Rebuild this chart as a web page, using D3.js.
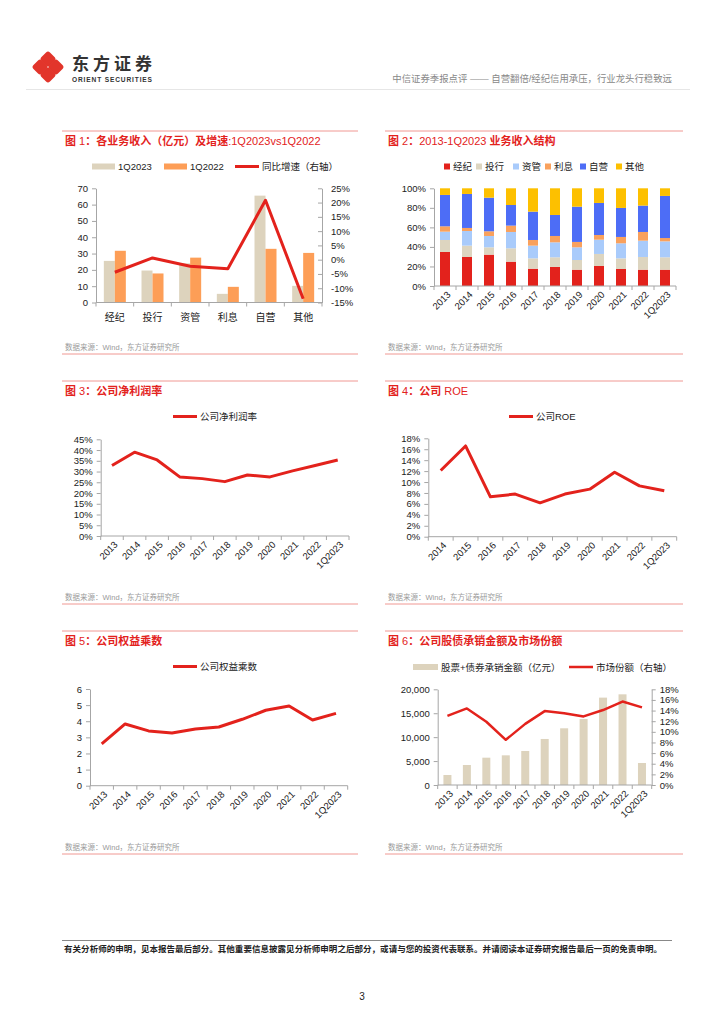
<!DOCTYPE html>
<html>
<head>
<meta charset="utf-8">
<script src="https://cdn.jsdelivr.net/npm/d3@7"></script>
<style>
body { margin: 0; background: #fff; }
</style>
</head>
<body>
<script>
// ---- data ----
var bizCats = ["经纪", "投行", "资管", "利息", "自营", "其他"];
var rev1Q2023 = [25.5, 19.6, 24.0, 5.3, 65.5, 10.2];   // 亿元
var rev1Q2022 = [31.7, 17.8, 27.5, 9.6, 32.9, 30.4];   // 亿元
var revYoY = [-4.4, 0.6, -2.3, -3.2, 20.8, -13.7];     // %

var years = ["2013", "2014", "2015", "2016", "2017", "2018", "2019", "2020", "2021", "2022", "1Q2023"];
var mixKeys = ["经纪", "投行", "资管", "利息", "自营", "其他"];
var mixBrokerage = [34.8, 29.7, 32.1, 24.9, 17.7, 19.5, 16.7, 20.5, 17.4, 16.7, 16.7];
var mixIB        = [12.3, 11.6, 7.5, 13.7, 10.6, 9.9, 9.9, 12.3, 10.9, 13.0, 12.7];
var mixAM        = [8.5, 15.0, 11.6, 16.7, 13.0, 15.3, 13.0, 14.6, 15.4, 16.7, 16.3];
var mixInterest  = [5.5, 3.1, 4.8, 6.5, 5.8, 6.5, 5.5, 4.8, 6.5, 8.9, 3.4];
var mixProp      = [32.1, 34.8, 34.4, 21.1, 29.0, 21.5, 36.1, 32.8, 29.7, 27.0, 43.1];
var mixOther     = [6.8, 5.8, 9.6, 17.1, 23.9, 27.3, 18.8, 15.0, 20.1, 17.7, 7.8];

var netMargin = [32.8, 39.0, 35.4, 27.5, 26.7, 25.3, 28.4, 27.5, 30.3, 32.8, 35.4]; // %

var roeYears = ["2014", "2015", "2016", "2017", "2018", "2019", "2020", "2021", "2022", "1Q2023"];
var roe = [12.1, 16.6, 7.3, 7.8, 6.2, 7.8, 8.7, 11.8, 9.3, 8.4]; // %

var equityMult = [2.59, 3.83, 3.40, 3.27, 3.52, 3.64, 4.12, 4.68, 4.95, 4.08, 4.49];

var underwriting = [2090, 4180, 5710, 6200, 7110, 9620, 11850, 13800, 18260, 18950, 4600]; // 亿元
var marketShare = [13.0, 14.4, 11.9, 8.5, 11.5, 13.9, 13.5, 12.9, 14.1, 15.7, 14.6];      // %

// ---- page ----
var FONT = '"Liberation Sans", Arial, "Noto Sans CJK SC", sans-serif';
var RED = "#e3221c", BEIGE = "#ddd3bd", ORANGE = "#fd9e57", AX = "#a6a6a6";
var mixColors = [RED, "#ddd5c0", "#a9cbfb", "#f9a15d", "#4d6df6", "#fdc000"];

var svg = d3.select("body").append("svg")
    .attr("width", 724).attr("height", 1024)
    .style("font-family", FONT);

// header / logo
var logo = svg.append("g").attr("transform", "translate(48,67)");
[[0,-8],[8,0],[0,8],[-8,0]].forEach(function(p) {
    logo.append("rect").attr("x", p[0]-6).attr("y", p[1]-6).attr("width", 12).attr("height", 12)
        .attr("rx", 2.8).attr("fill", "#e2352b")
        .attr("transform", "rotate(45," + p[0] + "," + p[1] + ")");
});
svg.append("text").attr("x", 72).attr("y", 70).attr("font-size", 17).attr("font-weight", "bold")
    .attr("fill", "#333").attr("font-family", '"Noto Sans CJK SC"').attr("textLength", 80).text("东方证券");
svg.append("text").attr("x", 72).attr("y", 81.5).attr("font-size", 6.6).attr("font-weight", "bold")
    .attr("fill", "#333").attr("textLength", 80).text("ORIENT SECURITIES");
svg.append("text").attr("x", 672).attr("y", 82).attr("text-anchor", "end").attr("font-size", 9.4)
    .attr("fill", "#888").text("中信证券季报点评 —— 自营翻倍/经纪信用承压，行业龙头行稳致远");
svg.append("line").attr("x1", 26).attr("x2", 690).attr("y1", 89.5).attr("y2", 89.5)
    .attr("stroke", "#e6e6e6");

// footer
svg.append("line").attr("x1", 62).attr("x2", 672).attr("y1", 940.5).attr("y2", 940.5)
    .attr("stroke", "#888").attr("stroke-width", 1);
svg.append("text").attr("x", 64).attr("y", 952).attr("font-size", 8.5).attr("font-weight", "bold")
    .attr("fill", "#222").attr("textLength", 598)
    .text("有关分析师的申明，见本报告最后部分。其他重要信息披露见分析师申明之后部分，或请与您的投资代表联系。并请阅读本证券研究报告最后一页的免责申明。");
svg.append("text").attr("x", 362).attr("y", 1000).attr("text-anchor", "middle").attr("font-size", 10)
    .attr("fill", "#222").text("3");

function panel(x0, x1, top, bottom, title) {
    svg.append("line").attr("x1", x0).attr("x2", x1).attr("y1", top).attr("y2", top)
        .attr("stroke", "#f09893");
    // CJK runs bold, latin/digits regular like the report
    var t = svg.append("text").attr("x", x0 + 3).attr("y", top + 13.5).attr("font-size", 11)
        .attr("fill", RED);
    title.match(/[\u0000-\u00ff]+|[^\u0000-\u00ff]+/g).forEach(function(s) {
        t.append("tspan").attr("font-weight", /[^\u0000-\u00ff]/.test(s) ? "bold" : "normal").text(s);
    });
    svg.append("text").attr("x", x0 + 3).attr("y", bottom - 4).attr("font-size", 7.5)
        .attr("fill", "#9a9a9a").text("数据来源：Wind，东方证券研究所");
    svg.append("line").attr("x1", x0).attr("x2", x1).attr("y1", bottom).attr("y2", bottom)
        .attr("stroke", "#f09893");
}

function styleAxis(g) {
    g.attr("font-family", FONT);
    g.select(".domain").attr("stroke", AX);
    g.selectAll(".tick line").attr("stroke", AX);
    g.selectAll(".tick text").attr("fill", "#222").attr("font-size", 9.5);
}

function yAxis(scale, xpos, ticks, fmt, right, inward) {
    var ax = right ? d3.axisRight(scale) : d3.axisLeft(scale);
    ax.tickValues(ticks).tickFormat(fmt).tickSizeOuter(0);
    if (inward) ax.tickSizeInner(-4).tickPadding(9); else ax.tickSizeInner(4).tickPadding(4);
    svg.append("g").attr("transform", "translate(" + xpos + ",0)").call(ax).call(styleAxis);
}

function xAxisBand(x, y, rotate, fsize) {
    var g = svg.append("g");
    var r = x.range();
    g.append("line").attr("x1", r[0]).attr("x2", r[1]).attr("y1", y).attr("y2", y).attr("stroke", AX);
    var bounds = d3.range(x.domain().length + 1).map(function(i) { return r[0] + i * x.step(); });
    g.selectAll("line.tk").data(bounds).join("line").attr("class", "tk")
        .attr("x1", function(d) { return d; }).attr("x2", function(d) { return d; })
        .attr("y1", y).attr("y2", y + 4).attr("stroke", AX);
    var cx = function(d) { return x(d) + x.bandwidth() / 2; };
    if (rotate) {
        g.selectAll("text").data(x.domain()).join("text")
            .attr("transform", function(d) { return "translate(" + (cx(d) + 4) + "," + (y + 7) + ") rotate(-45)"; })
            .attr("text-anchor", "end").attr("dy", "0.35em").attr("font-size", fsize || 9.5)
            .attr("fill", "#222").text(function(d) { return d; });
    } else {
        g.selectAll("text").data(x.domain()).join("text")
            .attr("x", cx).attr("y", y + 18).attr("text-anchor", "middle").attr("font-size", fsize || 10)
            .attr("fill", "#222").text(function(d) { return d; });
    }
}

function legendLine(x, y, label, w) {
    svg.append("line").attr("x1", x).attr("x2", x + 24).attr("y1", y).attr("y2", y)
        .attr("stroke", RED).attr("stroke-width", w || 3);
    svg.append("text").attr("x", x + 27).attr("y", y + 3.5).attr("font-size", 9.5).attr("fill", "#222").text(label);
}
function legendBox(x, y, label, color, w, h) {
    svg.append("rect").attr("x", x).attr("y", y - h / 2).attr("width", w).attr("height", h).attr("fill", color);
    svg.append("text").attr("x", x + w + 3).attr("y", y + 3.5).attr("font-size", 9.5).attr("fill", "#222").text(label);
}

function redLine(x, y, vals, cats, w) {
    svg.append("path").datum(vals)
        .attr("fill", "none").attr("stroke", RED).attr("stroke-width", w || 3).attr("stroke-linejoin", "round")
        .attr("d", d3.line()
            .x(function(d, i) { return x(cats[i]) + x.bandwidth() / 2; })
            .y(function(d) { return y(d); }));
}

var pct = function(d) { return d + "%"; };

// ---- chart 1 ----
panel(62, 358, 131, 354, "图 1：各业务收入（亿元）及增速:1Q2023vs1Q2022");
legendBox(92, 166.5, "1Q2023", BEIGE, 23, 6);
legendBox(164, 166.5, "1Q2022", ORANGE, 23, 6);
legendLine(235, 166.5, "同比增速（右轴）");
(function() {
    var x = d3.scaleBand().domain(bizCats).range([96, 322]);
    var y = d3.scaleLinear().domain([0, 70]).range([302.5, 188.3]);
    var y2 = d3.scaleLinear().domain([-15, 25]).range([302.5, 188.3]);
    var bw = 11;
    svg.append("g").selectAll("rect").data(rev1Q2023).join("rect")
        .attr("x", function(d, i) { return x(bizCats[i]) + x.bandwidth() / 2 - bw; })
        .attr("width", bw).attr("y", function(d) { return y(d); })
        .attr("height", function(d) { return y(0) - y(d); }).attr("fill", BEIGE);
    svg.append("g").selectAll("rect").data(rev1Q2022).join("rect")
        .attr("x", function(d, i) { return x(bizCats[i]) + x.bandwidth() / 2; })
        .attr("width", bw).attr("y", function(d) { return y(d); })
        .attr("height", function(d) { return y(0) - y(d); }).attr("fill", ORANGE);
    yAxis(y, 96, d3.range(0, 71, 10), function(d) { return d; });
    yAxis(y2, 322, d3.range(-15, 26, 5), pct, true, true);
    xAxisBand(x, 302.5, false);
    redLine(x, y2, revYoY, bizCats, 3);
})();

// ---- chart 2 ----
panel(385, 683, 131, 354, "图 2：2013-1Q2023 业务收入结构");
(function() {
    var lx = [444, 476, 513, 545, 580, 616];
    mixKeys.forEach(function(k, i) { legendBox(lx[i], 166.5, k, mixColors[i], 6, 6); });
    var x = d3.scaleBand().domain(years).range([434, 676]);
    var y = d3.scaleLinear().domain([0, 100]).range([286, 188.3]);
    var series = [mixBrokerage, mixIB, mixAM, mixInterest, mixProp, mixOther];
    var rows = years.map(function(yr, i) {
        var o = { year: yr };
        mixKeys.forEach(function(k, j) { o[k] = series[j][i]; });
        return o;
    });
    var stack = d3.stack().keys(mixKeys).offset(d3.stackOffsetExpand)(rows);
    var bw = 10;
    svg.append("g").selectAll("g").data(stack).join("g")
        .attr("fill", function(d, i) { return mixColors[i]; })
        .selectAll("rect").data(function(d) { return d; }).join("rect")
        .attr("x", function(d) { return x(d.data.year) + x.bandwidth() / 2 - bw / 2; })
        .attr("width", bw)
        .attr("y", function(d) { return y(d[1] * 100); })
        .attr("height", function(d) { return y(d[0] * 100) - y(d[1] * 100); });
    yAxis(y, 434, d3.range(0, 101, 20), pct);
    xAxisBand(x, 286, true);
})();

// ---- chart 3 ----
panel(62, 358, 381, 604, "图 3：公司净利润率");
legendLine(173, 416.5, "公司净利润率");
(function() {
    var x = d3.scaleBand().domain(years).range([100.7, 349]);
    var y = d3.scaleLinear().domain([0, 45]).range([536, 439.3]);
    yAxis(y, 100.7, d3.range(0, 46, 5), pct);
    xAxisBand(x, 536, true);
    redLine(x, y, netMargin, years, 3);
})();

// ---- chart 4 ----
panel(385, 683, 381, 604, "图 4：公司 ROE");
legendLine(509, 416.5, "公司ROE");
(function() {
    var x = d3.scaleBand().domain(roeYears).range([428.3, 676.7]);
    var y = d3.scaleLinear().domain([0, 18]).range([536.7, 438.3]);
    yAxis(y, 428.3, d3.range(0, 19, 2), pct);
    xAxisBand(x, 536.7, true);
    redLine(x, y, roe, roeYears, 3);
})();

// ---- chart 5 ----
panel(62, 358, 631, 854, "图 5：公司权益乘数");
legendLine(173, 666.5, "公司权益乘数");
(function() {
    var x = d3.scaleBand().domain(years).range([90, 347.7]);
    var y = d3.scaleLinear().domain([0, 6]).range([785.7, 689]);
    yAxis(y, 90, d3.range(0, 7, 1), function(d) { return d; });
    xAxisBand(x, 785.7, true);
    redLine(x, y, equityMult, years, 3);
})();

// ---- chart 6 ----
panel(385, 683, 631, 854, "图 6：公司股债承销金额及市场份额");
legendBox(413, 667, "股票+债券承销金额（亿元）", BEIGE, 25, 6);
legendLine(569, 667, "市场份额（右轴）", 2.5);
(function() {
    var x = d3.scaleBand().domain(years).range([437.7, 651.7]);
    var y = d3.scaleLinear().domain([0, 20000]).range([785, 689.3]);
    var y2 = d3.scaleLinear().domain([0, 18]).range([785, 689.3]);
    var bw = 8;
    svg.append("g").selectAll("rect").data(underwriting).join("rect")
        .attr("x", function(d, i) { return x(years[i]) + x.bandwidth() / 2 - bw / 2; })
        .attr("width", bw).attr("y", function(d) { return y(d); })
        .attr("height", function(d) { return y(0) - y(d); }).attr("fill", BEIGE);
    yAxis(y, 437.7, d3.range(0, 20001, 5000), d3.format(",.0f"));
    yAxis(y2, 651.7, d3.range(0, 19, 2), pct, true);
    xAxisBand(x, 785, true);
    redLine(x, y2, marketShare, years, 2.5);
})();
</script>
</body>
</html>
